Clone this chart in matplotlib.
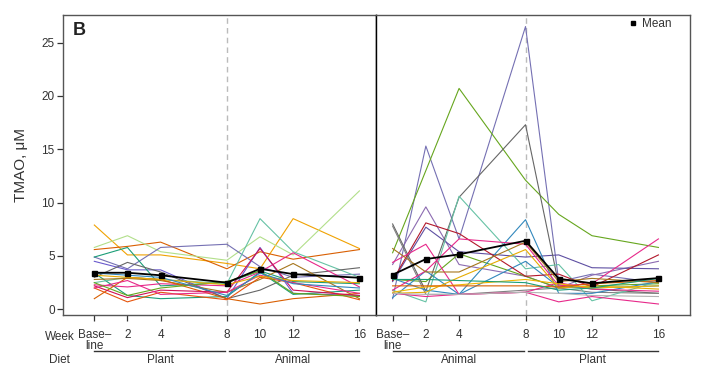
import matplotlib
matplotlib.use("Agg")
import matplotlib.pyplot as plt
from matplotlib.lines import Line2D

plt.rcParams['font.family'] = ['Liberation Sans', 'DejaVu Sans']

weeks = [0, 2, 4, 8, 10, 12, 16]
week_labels = ['Base–\nline', '2', '4', '8', '10', '12', '16']

# plant first, then animal
left_colors = ['#F0A202', '#D95F02', '#B2DF8A', '#7570B3', '#6A5ACD', '#1B9E77',
               '#1B9E77', '#66C2A5', '#666666', '#E7298A', '#A6761D', '#D95F02',
               '#E6550D', '#CE1256', '#E7298A', '#66A61E', '#E6AB02', '#3288BD']
left_values = [
    [7.9, 5.1, 5.1, 4.3, 3.8, 8.5, 5.7],
    [5.6, 5.9, 6.3, 3.8, 5.4, 4.7, 5.6],
    [5.8, 6.9, 5.4, 4.6, 6.8, 5.1, 11.1],
    [4.9, 3.8, 5.8, 6.1, 4.0, 3.0, 3.3],
    [4.5, 3.7, 3.7, 1.0, 5.8, 1.5, 1.3],
    [4.9, 5.8, 2.2, 2.5, 3.6, 2.6, 2.4],
    [3.4, 1.3, 1.0, 1.2, 3.5, 1.4, 1.8],
    [2.5, 3.0, 2.8, 2.4, 8.5, 5.4, 3.0],
    [3.0, 4.4, 3.5, 1.0, 1.8, 3.2, 3.9],
    [2.3, 2.1, 2.4, 2.2, 3.5, 5.3, 2.1],
    [2.8, 2.9, 2.7, 1.6, 2.8, 4.3, 1.0],
    [1.0, 3.0, 2.8, 1.0, 0.5, 1.0, 1.5],
    [2.0, 0.7, 1.6, 0.9, 3.0, 2.5, 0.9],
    [2.2, 1.1, 1.8, 1.6, 5.7, 1.8, 1.3],
    [2.0, 2.7, 1.4, 1.6, 3.2, 2.5, 1.5],
    [2.5, 1.3, 2.0, 2.6, 3.6, 1.5, 1.2],
    [3.2, 3.0, 2.8, 2.3, 3.1, 2.7, 2.5],
    [3.4, 3.2, 3.0, 1.3, 3.4, 2.4, 2.0],
]
left_mean = [3.43, 3.43, 3.19, 2.5, 3.8, 3.3, 2.96]

# animal first, then plant
right_colors = ['#7570B3', '#8C6BB1', '#5E4FA2', '#66A61E', '#66A61E', '#666666',
                '#808080', '#66C2A5', '#3288BD', '#3288BD', '#B2182B', '#E7298A',
                '#E7298A', '#E7298A', '#A6761D', '#E6AB02', '#F0B400', '#D95F02',
                '#1B9E77', '#B3B3B3']
right_values = [
    [1.0, 15.3, 6.6, 26.5, 2.6, 3.3, 2.5],
    [4.2, 9.6, 4.2, 3.1, 2.0, 3.2, 4.5],
    [2.6, 7.7, 5.4, 4.9, 5.1, 3.9, 3.8],
    [5.3, 13.0, 20.7, 12.1, 8.9, 6.9, 5.8],
    [2.8, 2.6, 5.2, 3.1, 2.0, 2.2, 2.4],
    [8.0, 1.7, 10.5, 17.3, 2.3, 1.9, 1.5],
    [7.8, 1.4, 1.4, 1.8, 2.0, 1.6, 1.5],
    [1.8, 0.7, 10.6, 3.8, 4.2, 0.8, 2.6],
    [1.1, 3.6, 1.4, 8.4, 1.5, 1.5, 2.6],
    [2.9, 1.8, 1.4, 4.5, 2.1, 2.0, 2.2],
    [2.7, 8.1, 7.1, 3.1, 3.3, 2.1, 5.1],
    [4.4, 6.1, 1.4, 1.6, 0.7, 1.2, 0.5],
    [1.8, 3.6, 6.6, 6.1, 2.2, 2.4, 6.6],
    [1.5, 1.2, 1.4, 1.6, 2.5, 1.9, 1.7],
    [5.7, 3.5, 3.5, 6.3, 2.6, 2.9, 2.5],
    [1.5, 1.6, 3.0, 5.6, 2.0, 2.2, 1.9],
    [1.6, 2.1, 2.3, 2.8, 2.4, 2.0, 2.2],
    [2.2, 2.2, 2.2, 2.2, 2.1, 2.4, 2.7],
    [2.8, 2.8, 2.7, 2.5, 1.8, 2.0, 2.9],
    [1.5, 1.4, 1.4, 1.6, 1.5, 1.3, 1.2],
]
right_mean = [3.24, 4.71, 5.15, 6.43, 2.87, 2.44, 2.93]

left_diet = ['Plant', 'Animal']
right_diet = ['Animal', 'Plant']

W, H = 701, 367
fig = plt.figure(figsize=(W / 100, H / 100), dpi=100)
ax1 = fig.add_axes([63 / W, 1 - 315 / H, 313 / W, 300 / H])
ax2 = fig.add_axes([376 / W, 1 - 315 / H, 314 / W, 300 / H], sharey=ax1)

frame = '#555555'
txt = '#333333'
fs = 8.5


def draw_panel(ax, values, colors, mean, diet, xlim):
    ax.axvline(8, color='#BBBBBB', ls=(0, (4, 3)), lw=1.0, zorder=1)
    for vals, c in zip(values, colors):
        ax.plot(weeks, vals, color=c, lw=0.8, zorder=2)
    ax.plot(weeks, mean, color='black', lw=1.3, marker='s', ms=3.6, zorder=3)
    ax.set_xlim(*xlim)
    ax.set_xticks(weeks)
    ax.set_xticklabels(week_labels, fontsize=fs, color=txt, linespacing=0.9)
    ax.tick_params(axis='x', length=4, width=0.9, color=txt, pad=6)
    tr = ax.get_xaxis_transform()
    for (x0, x1), label in zip([(0, 7.9), (8.15, 16)], diet):
        ax.plot([x0, x1], [-0.119, -0.119], color=txt, lw=1.0,
                transform=tr, clip_on=False)
        ax.text(4 if x0 == 0 else 12, -0.13, label, transform=tr,
                ha='center', va='top', fontsize=fs, color=txt)
    for s in ax.spines.values():
        s.set_color(frame)
        s.set_linewidth(1.0)


draw_panel(ax1, left_values, left_colors, left_mean, left_diet, (-1.89, 17.0))
draw_panel(ax2, right_values, right_colors, right_mean, right_diet, (-1.0, 17.9))

ax1.set_ylim(-0.53, 27.58)
ax1.set_yticks([0, 5, 10, 15, 20, 25])
ax1.tick_params(axis='y', length=4, width=0.9, color=txt, labelsize=fs,
                labelcolor=txt, pad=2)
ax1.set_ylabel('TMAO, μM', fontsize=11, color=txt, labelpad=10)
ax1.spines['right'].set_color('black')
ax2.spines['left'].set_color('black')
ax2.tick_params(axis='y', left=False, labelleft=False)

ax1.text(0.03, 0.978, 'B', transform=ax1.transAxes, fontsize=13,
         fontweight='bold', ha='left', va='top', color='#222222')

tr1 = ax1.get_xaxis_transform()
ax1.text(-2.1, -0.055, 'Week', transform=tr1, ha='center', va='top',
         fontsize=fs, color=txt)
ax1.text(-2.1, -0.13, 'Diet', transform=tr1, ha='center', va='top',
         fontsize=fs, color=txt)

handle = Line2D([], [], marker='s', ls='none', color='black', ms=3.5)
ax2.legend([handle], ['Mean'], loc='upper right', frameon=False,
           fontsize=fs, handlelength=0.8, handletextpad=0.4,
           bbox_to_anchor=(0.975, 1.025), labelcolor=txt)

fig.savefig('out.png', dpi=100)
